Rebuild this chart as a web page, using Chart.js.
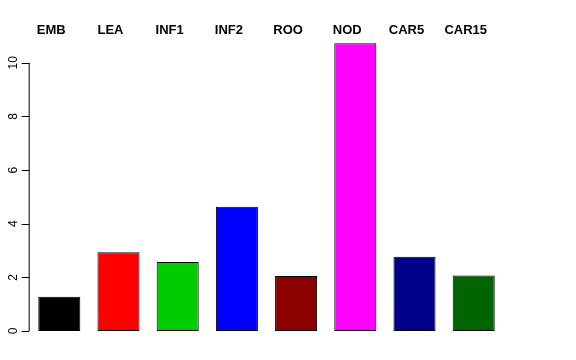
<!DOCTYPE html>
<html>
<head>
<meta charset="utf-8">
<script src="https://cdn.jsdelivr.net/npm/chart.js@4"></script>
<style>
  body { margin: 0; background: #fff; }
  #wrap { width: 576px; height: 360px; }
</style>
</head>
<body>
<div id="wrap"><canvas id="barChart" width="576" height="360"></canvas></div>
<script>
const categories = ["EMB", "LEA", "INF1", "INF2", "ROO", "NOD", "CAR5", "CAR15"];
const values = [1.28, 2.94, 2.57, 4.63, 2.05, 10.73, 2.77, 2.07];
const barColors = ["#000000", "#FF0000", "#00CD00", "#0000FF", "#8B0000", "#FF00FF", "#00008B", "#006400"];
const yTicks = [0, 2, 4, 6, 8, 10];

// R-style y axis: line only spans first..last tick, labels rotated
const rAxis = {
  id: "rAxis",
  afterDraw(chart) {
    const ctx = chart.ctx;
    const y = chart.scales.y;
    const x0 = chart.chartArea.left - 1;
    ctx.save();
    ctx.strokeStyle = "#000";
    ctx.lineWidth = 1;
    ctx.beginPath();
    ctx.moveTo(x0 + 0.5, y.getPixelForValue(yTicks[0]));
    ctx.lineTo(x0 + 0.5, y.getPixelForValue(yTicks[yTicks.length - 1]));
    yTicks.forEach((t) => {
      const py = Math.round(y.getPixelForValue(t)) + 0.5;
      ctx.moveTo(x0 + 0.5, py);
      ctx.lineTo(x0 - 7, py);
    });
    ctx.stroke();
    ctx.fillStyle = "#000";
    ctx.font = "12px 'Liberation Sans', Arial, sans-serif";
    ctx.textAlign = "center";
    ctx.textBaseline = "middle";
    yTicks.forEach((t) => {
      ctx.save();
      ctx.translate(x0 - 15, y.getPixelForValue(t));
      ctx.rotate(-Math.PI / 2);
      ctx.fillText(String(t), 0, 0);
      ctx.restore();
    });
    ctx.restore();
  },
};

new Chart(document.getElementById("barChart"), {
  type: "bar",
  data: {
    labels: categories,
    datasets: [
      {
        data: values,
        backgroundColor: barColors,
        borderColor: "#000000",
        borderWidth: 1,
        borderSkipped: false,
        categoryPercentage: 1,
        barPercentage: 0.71,
      },
    ],
  },
  options: {
    responsive: false,
    animation: false,
    layout: { padding: { left: 29.7, right: 72.7, top: 0, bottom: 29 } },
    plugins: {
      legend: { display: false },
      tooltip: { enabled: false },
    },
    scales: {
      x: {
        position: "top",
        grid: { display: false, drawTicks: false },
        border: { display: false },
        afterFit(s) {
          s.height = 36;
        },
        ticks: {
          color: "#000",
          padding: -2,
          labelOffset: -8,
          maxRotation: 0,
          font: { family: "'Liberation Sans', Arial, sans-serif", size: 13, weight: "bold" },
        },
      },
      y: {
        display: false,
        min: 0,
        max: 11,
      },
    },
  },
  plugins: [rAxis],
});
</script>
</body>
</html>
